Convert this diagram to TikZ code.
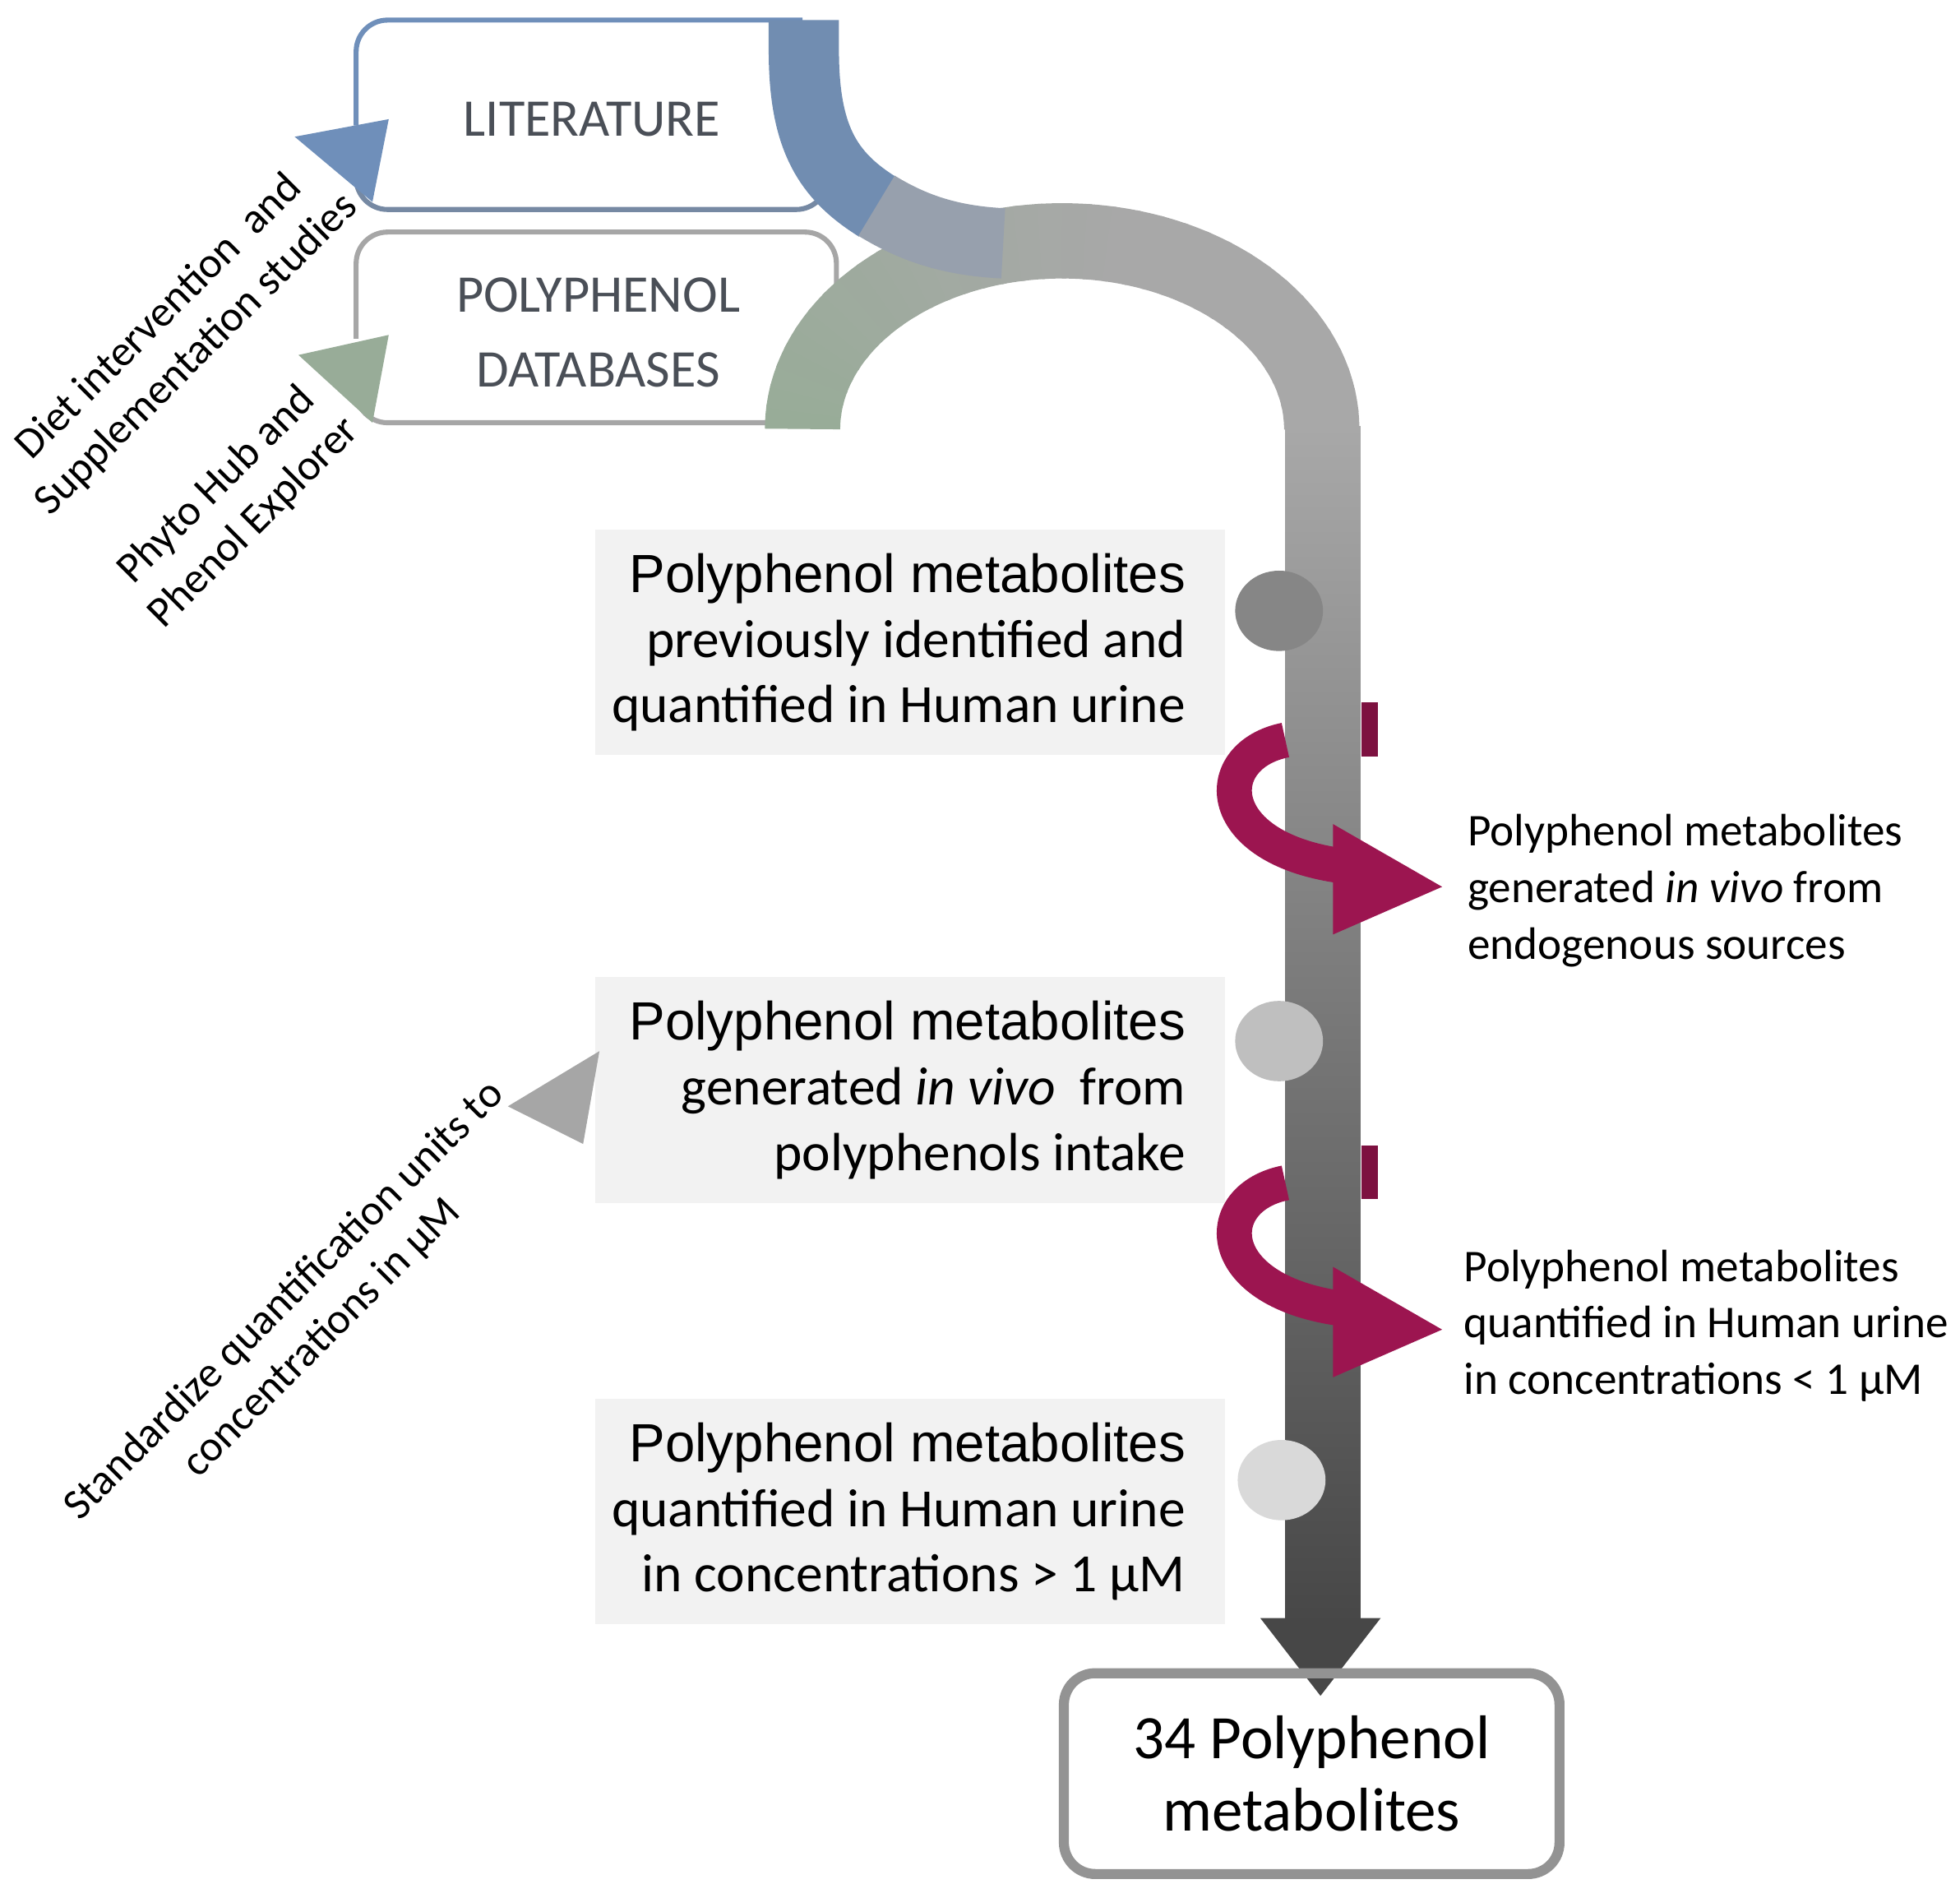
\documentclass[tikz,border=0pt]{standalone}
\usepackage{fontspec}
\setmainfont{Carlito}
\newfontfamily\arialf{Liberation Sans}
\usetikzlibrary{calc}
\usetikzlibrary{positioning}
\usetikzlibrary{shapes.geometric}
\definecolor{litblue}{HTML}{6F8FBA}
\definecolor{dbgreen}{HTML}{98AC98}
\definecolor{bandgray}{HTML}{A8A8A8}
\definecolor{ribbon}{HTML}{9C1550}
\definecolor{boxfill}{HTML}{F2F2F2}
\definecolor{txtgray}{HTML}{4A4F57}
\tikzset{
  srcbox/.style={rounded corners=0.25cm, line width=0.04cm},
  stepbox/.style={fill=boxfill, minimum width=5.02cm, minimum height=1.8cm},
  steptxt/.style={align=right, font=\fontsize{12.2}{14.8}\selectfont, anchor=east},
  sidetxt/.style={align=left, font=\fontsize{10.3}{12.8}\selectfont, anchor=west},
  rottxt/.style={align=center, rotate=45, font=\fontsize{9.8}{12}\selectfont},
  dot/.style={ellipse, minimum width=0.7cm, minimum height=0.64cm, inner sep=0pt},
}
\begin{document}
\begin{tikzpicture}[x=0.01cm, y=-0.01cm]
\useasboundingbox (0,0) rectangle (1563,1502);

% source boxes with their arrow heads
\draw[srcbox, litblue] (284,100) -- (284,16) -- (640,16);
\draw[srcbox, litblue!60!gray] (284,140) |- (660,167) -- (660,130);
\fill[litblue] (235,109) -- (310,95) -- (297,161) -- cycle;
\draw[srcbox, gray!70] (284,270) |- (667,185) -- (667,230);
\draw[srcbox, gray!70] (284,310) |- (640,337);
\fill[dbgreen] (238,283) -- (310,267) -- (297,337) -- cycle;
\node (lit) [font=\fontsize{12}{14}\selectfont, text=txtgray] at (472,95) {LITERATURE};
\node (db) [font=\fontsize{12}{14}\selectfont, text=txtgray, align=center] at (477,265) {POLYPHENOL\\[0.1cm]DATABASES};

% main band: blue inflow, green arc, shaded stem
\foreach \i in {0,...,35} {
  \pgfmathsetmacro{\m}{max(0,100-\i*5)}
  \draw[line width=0.6cm, color=dbgreen!\m!bandgray]
    ($(847,342)+({180+\i*5}:207 and 150)$) arc ({180+\i*5}:{min(360,180+(\i+1)*5+1)}:207 and 150);
}
\draw[line width=0.56cm, litblue!85!gray] (641,16) -- (641,40) .. controls (641,110) and (660,140) .. (700,165);
\draw[line width=0.56cm, litblue!30!bandgray] (699,164) .. controls (730,183) and (760,192) .. (800,194);
\shade[top color=bandgray, bottom color=black!72] (1025,340) rectangle (1085,1292);
\fill[black!72] (1005,1290) -- (1101,1290) -- (1053,1352) -- cycle;

% stations on the band
\node (d1) [dot, fill=gray!95] at (1020,487) {};
\node (d2) [dot, fill=gray!50] at (1020,830) {};
\node (d3) [dot, fill=gray!30] at (1022,1180) {};

% step boxes
\node (s1) [stepbox] at (726,512) {};
\node (s2) [stepbox] at (726,869) {};
\node (s3) [stepbox] at (726,1205) {};
\node [steptxt] at ($(s1.east)+(-20,0)$) {{\arialf Polyphenol metabolites}\\previously identified and\\quantified in Human urine};
\node [steptxt] at ($(s2.east)+(-20,0)$) {{\arialf Polyphenol metabolites}\\generated \emph{in vivo}\ \ from\\polyphenols intake};
\node [steptxt] at ($(s3.east)+(-20,0)$) {{\arialf Polyphenol metabolites}\\quantified in Human urine\\in concentrations > 1 µM};

% filtering ribbons around the stem
\foreach \o in {0,353} {
  \fill[ribbon!80!black] (1086,{560+\o}) rectangle (1099,{603+\o});
  \draw[line width=0.28cm, ribbon] (1025,{590+\o}) .. controls (965,{602+\o}) and (965,{675+\o}) .. (1068,{690+\o});
  \fill[ribbon] (1063,{657+\o}) -- (1150,{707+\o}) -- (1063,{745+\o}) -- cycle;
}
\node (f1) [sidetxt] at (1158,710) {Polyphenol metabolites\\generated \emph{in vivo} from\\endogenous sources};
\node (f2) [sidetxt] at (1155,1057) {Polyphenol metabolites\\quantified in Human urine\\in concentrations < 1 µM};

% rotated notes
\node (n1) [rottxt] at (142,268) {Diet intervention\ \ and\\Supplementation studies};
\node (n2) [rottxt] at (188,402) {Phyto Hub and\\Phenol Explorer};
\node (n3) [rottxt] at (242,1052) {Standardize quantification units to\\concentrations in µM};
\fill[gray!70] (405,882) -- (478,838) -- (465,912) -- cycle;

% final result
\node (res) [draw=gray!85, line width=0.08cm, rounded corners=0.25cm, minimum width=3.95cm, minimum height=1.6cm,
  align=center, font=\fontsize{14}{16.5}\selectfont] at (1046,1414) {34 Polyphenol\\metabolites};
\end{tikzpicture}
\end{document}
